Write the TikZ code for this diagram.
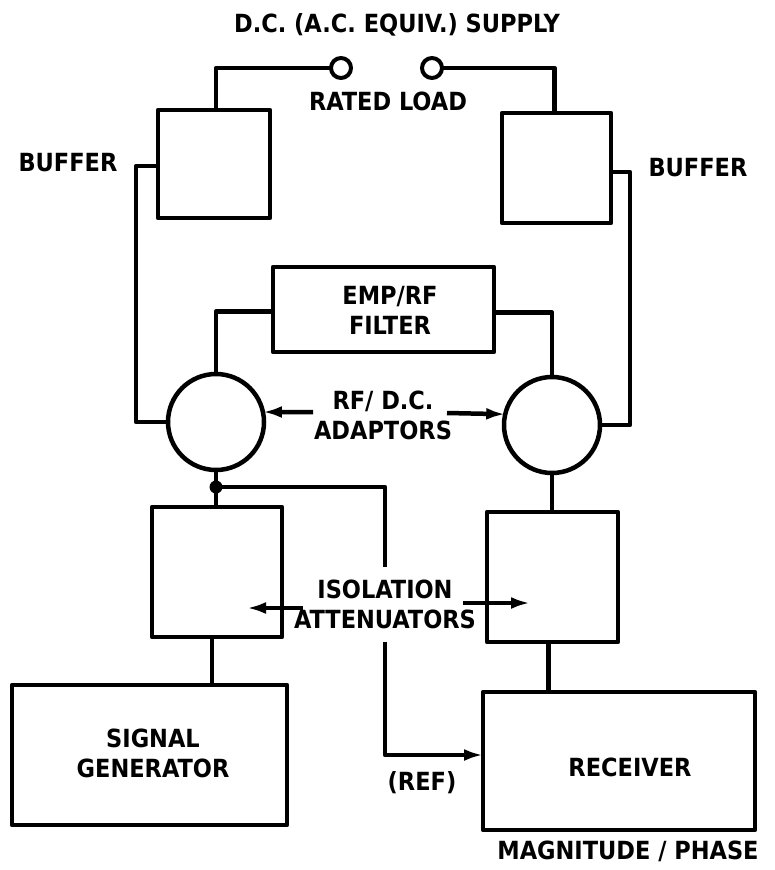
\documentclass[tikz,border=0pt]{standalone}
\usepackage{fontspec}
\setmainfont{DejaVu Sans Condensed}
\usetikzlibrary{arrows.meta}
\begin{document}
\begin{tikzpicture}[x=1pt,y=-1pt,
  wire/.style={line width=4.5pt, line join=round},
  blk/.style={draw, line width=4.5pt, line join=round, inner sep=0pt, outer sep=0pt},
  port/.style={draw, circle, line width=4pt, inner sep=0pt, outer sep=0pt},
  arr/.style={wire, -{Latex[length=19pt,width=12pt]}},
  lbl/.style={font=\bfseries\fontsize{25}{30}\selectfont, align=center, inner sep=0pt}]
\useasboundingbox (0,0) rectangle (775,870);
% blocks
\node[blk, minimum width=112pt, minimum height=108pt] (bufL) at (214,164) {};
\node[blk, minimum width=109pt, minimum height=110pt] (bufR) at (556.5,168) {};
\node[blk, minimum width=221pt, minimum height=85pt] (filt) at (383.5,309.5) {};
\node[port, line width=4.5pt, minimum size=96pt] (adL) at (216,422) {};
\node[port, line width=4.5pt, minimum size=96pt] (adR) at (552,425) {};
\node[blk, minimum width=130pt, minimum height=130pt] (isoL) at (217,572) {};
\node[blk, minimum width=131pt, minimum height=130pt] (isoR) at (552.5,577) {};
\node[blk, minimum width=275pt, minimum height=140pt] (sig) at (149.5,755) {};
\node[blk, minimum width=272pt, minimum height=138pt] (rec) at (619,761) {};
\node[port, minimum size=20pt] (termL) at (341,68) {};
\node[port, minimum size=20pt] (termR) at (432,68) {};
% labels
\node[lbl] (tSupply) at (397,25) {D.C. (A.C. EQUIV.) SUPPLY};
\node[lbl] (tLoad) at (388,101) {RATED LOAD};
\node[lbl] (tBufL) at (68,163) {BUFFER};
\node[lbl] (tBufR) at (698,168) {BUFFER};
\node[lbl] (tFilt) at (390,310) {EMP/RF\\FILTER};
\node[lbl] (tAdapt) at (383,415) {RF/ D.C.\\ADAPTORS};
\node[lbl] (tIso) at (385,604) {ISOLATION\\ATTENUATORS};
\node[lbl] (tSig) at (153,753) {SIGNAL\\GENERATOR};
\node[lbl] (tRec) at (630,767) {RECEIVER};
\node[lbl] (tRef) at (422,783) {(REF)};
\node[lbl] (tMag) at (628,851) {MAGNITUDE / PHASE};
% coordinates
\coordinate (j) at (216,487);
\coordinate (refA) at (385,567);
\coordinate (refB) at (385,642);
\coordinate (aL) at (313,412);
\coordinate (aR) at (447,413);
\coordinate (iL) at (303,608);
\coordinate (iLt) at (247,608);
\coordinate (iR) at (463,603);
\coordinate (iRt) at (530,603);
% connectors
\draw[wire] (termL.west) -| ([xshift=2pt]bufL.north);
\draw[wire] (termR.east) -| ([xshift=-2pt]bufR.north);
\draw[wire] ([yshift=-2pt]bufL.west) -- ++(-22,0) |- (adL.west);
\draw[wire] ([yshift=-4pt]bufR.east) -- ++(19,0) |- (adR.east);
\draw[wire] ([yshift=-2pt]filt.west) -| (adL.north);
\draw[wire] ([yshift=-3pt]filt.east) -| (adR.north);
\draw[wire] (adL.south) -- (adL.south |- isoL.north);
\draw[wire] (adR.south) -- (adR.south |- isoR.north);
\draw[wire] ([xshift=-5pt]isoL.south) -- ([xshift=-5pt]isoL.south |- sig.north);
\draw[wire] ([xshift=-4pt]isoR.south) -- ([xshift=-4pt]isoR.south |- rec.north);
\fill (j) circle (6.5pt);
\draw[wire] (j) -| (refA);
\draw[arr] (refB) |- ([yshift=6pt]rec.west);
\draw[arr] (aL) -- (adL.12);
\draw[arr] (aR) -- (adR.167);
\draw[arr] (iL) -- (iLt);
\draw[arr] (iR) -- (iRt);
\end{tikzpicture}
\end{document}
